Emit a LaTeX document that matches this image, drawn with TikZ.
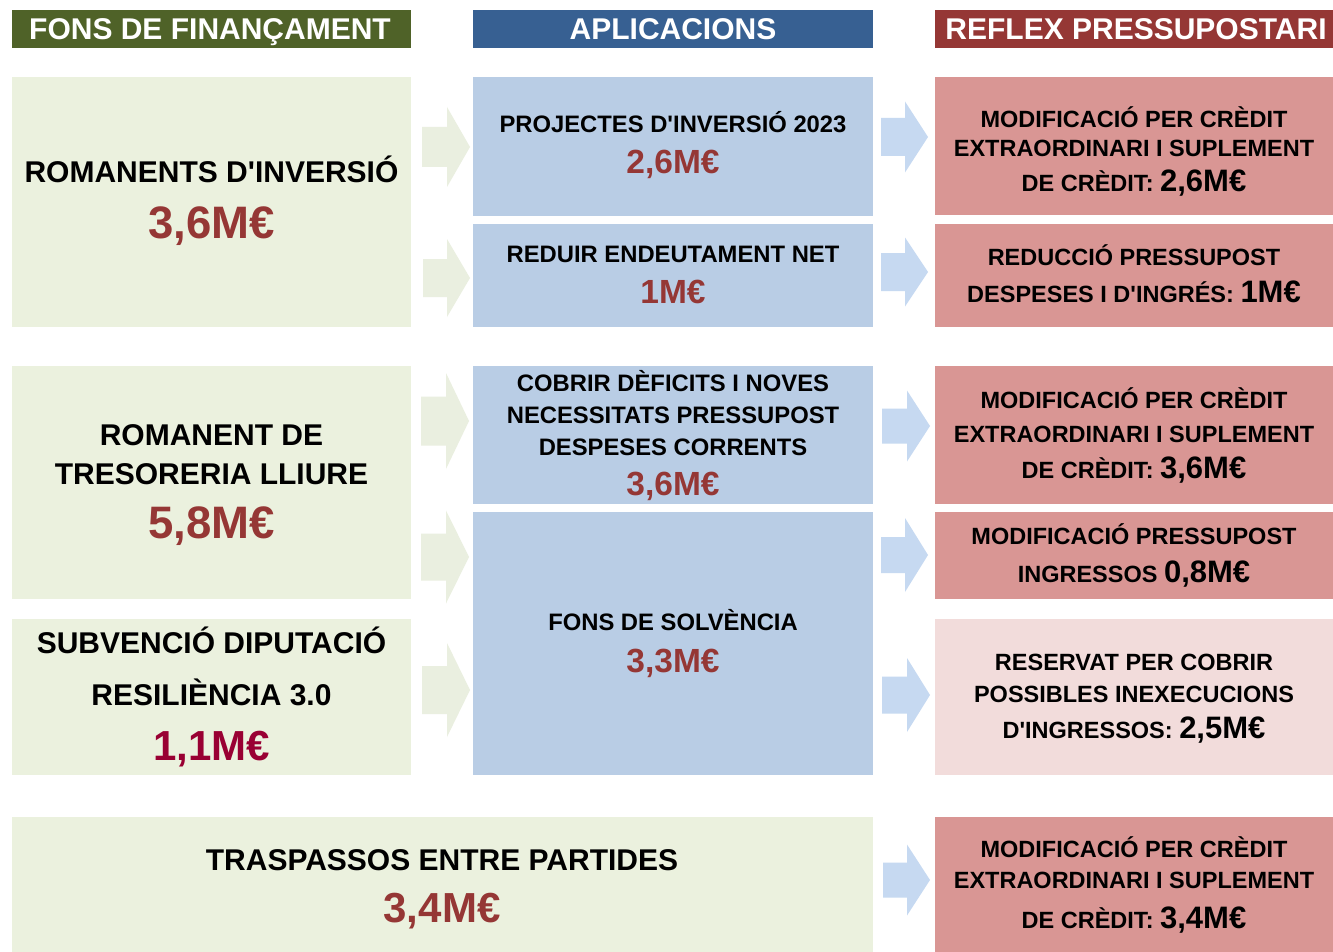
\documentclass[tikz,border=0pt]{standalone}
\usepackage{fontspec}
\setmainfont{Liberation Sans}[Ligatures=TeXOff]
\definecolor{hgreen}{HTML}{4F6228}
\definecolor{hblue}{HTML}{376092}
\definecolor{hred}{HTML}{953735}
\definecolor{lgreen}{HTML}{EBF1DE}
\definecolor{agreen}{HTML}{EAEFE0}
\definecolor{mblue}{HTML}{B9CDE5}
\definecolor{ablue}{HTML}{C6D9F1}
\definecolor{rdark}{HTML}{D99694}
\definecolor{rlight}{HTML}{F2DCDB}
\definecolor{valred}{HTML}{953735}
\definecolor{valcrim}{HTML}{990033}
\newcommand\fs[1]{\fontsize{#1}{#1}\selectfont}
\newcommand\blockarrow[6]{%
  \fill[#1] (#2,#4-#5) -- (#3-23,#4-#5) -- (#3-23,#4-#6) -- (#3,#4) -- (#3-23,#4+#6) -- (#3-23,#4+#5) -- (#2,#4+#5) -- cycle;}
\tikzset{
  panel/.style={rectangle, anchor=north west, inner sep=0pt, outer sep=0pt, draw=none},
  headbox/.style={panel, minimum height=38},
  txt/.style={anchor=base, inner sep=0pt, outer sep=0pt, font=\bfseries},
  headtxt/.style={txt, text=white, font=\bfseries\fs{30}},
  ltitle/.style={txt, font=\bfseries\fs{30}},
  lval/.style={txt, text=valred, font=\bfseries\fs{45.5}},
  mtitle/.style={txt, font=\bfseries\fs{23.8}},
  mval/.style={txt, text=valred, font=\bfseries\fs{33.5}},
  rtxt/.style={txt, font=\bfseries\fs{23.5}},
}
\newcommand\rv[1]{{\fs{31}#1}}
\begin{document}
\begin{tikzpicture}[x=1pt,y=-1pt]
\useasboundingbox[fill=white] (0,0) rectangle (1333,952);
% headers
\node[headbox, fill=hgreen, minimum width=399] (H1) at (12,10) {};
\node[headbox, fill=hblue, minimum width=400] (H2) at (473,10) {};
\node[headbox, fill=hred, minimum width=398] (H3) at (935,10) {};
\node[headtxt] (H1t) at (210,40) {FONS DE FINANÇAMENT};
\node[headtxt] (H2t) at (673,40) {APLICACIONS};
\node[headtxt] (H3t) at (1136,40) {REFLEX PRESSUPOSTARI};
% left panels
\node[panel, fill=lgreen, minimum width=399, minimum height=250] (L1) at (12,77) {};
\node[panel, fill=lgreen, minimum width=399, minimum height=233] (L2) at (12,366) {};
\node[panel, fill=lgreen, minimum width=399, minimum height=156] (L3) at (12,619) {};
\node[panel, fill=lgreen, minimum width=861, minimum height=135] (L4) at (12,817) {};
% middle panels
\node[panel, fill=mblue, minimum width=400, minimum height=139] (M1) at (473,77) {};
\node[panel, fill=mblue, minimum width=400, minimum height=103] (M2) at (473,224) {};
\node[panel, fill=mblue, minimum width=400, minimum height=138] (M3) at (473,366) {};
\node[panel, fill=mblue, minimum width=400, minimum height=263] (M4) at (473,512) {};
% right panels
\node[panel, fill=rdark, minimum width=398, minimum height=138] (R1) at (935,77) {};
\node[panel, fill=rdark, minimum width=398, minimum height=103] (R2) at (935,224) {};
\node[panel, fill=rdark, minimum width=398, minimum height=138] (R3) at (935,366) {};
\node[panel, fill=rdark, minimum width=398, minimum height=87] (R4) at (935,512) {};
\node[panel, fill=rlight, minimum width=398, minimum height=156] (R5) at (935,619) {};
\node[panel, fill=rdark, minimum width=398, minimum height=135] (R6) at (935,817) {};
% green block arrows
\blockarrow{agreen}{422}{470}{147}{20}{40}
\blockarrow{agreen}{423}{470}{278}{19}{39}
\blockarrow{agreen}{421}{469}{421}{24.5}{48}
\blockarrow{agreen}{421}{469}{557}{23.5}{46.5}
\blockarrow{agreen}{422}{470}{690}{24}{47}
% blue block arrows
\blockarrow{ablue}{881}{928}{137}{19}{35.5}
\blockarrow{ablue}{881}{928}{272}{19}{34.5}
\blockarrow{ablue}{882}{930}{426}{17.5}{35.5}
\blockarrow{ablue}{881}{928}{555}{18}{37}
\blockarrow{ablue}{882}{930}{695}{18.5}{37}
\blockarrow{ablue}{883}{930}{880}{17.5}{35.5}
% left texts
\node[ltitle] (L1a) at (211.5,183) {ROMANENTS D'INVERSIÓ};
\node[lval] (L1v) at (211.5,238) {3,6M€};
\node[ltitle] (L2a) at (211.5,445) {ROMANENT DE};
\node[ltitle] (L2b) at (211.5,484) {TRESORERIA LLIURE};
\node[lval] (L2v) at (211.5,538) {5,8M€};
\node[ltitle] (L3a) at (211.5,653) {SUBVENCIÓ DIPUTACIÓ};
\node[ltitle] (L3b) at (211.5,705) {RESILIÈNCIA 3.0};
\node[lval, text=valcrim, font=\bfseries\fs{42}] (L3v) at (211.5,760) {1,1M€};
\node[ltitle] (L4a) at (442,870) {TRASPASSOS ENTRE PARTIDES};
\node[lval, font=\bfseries\fs{42}] (L4v) at (442,922) {3,4M€};
% middle texts
\node[mtitle] (M1a) at (673,133) {PROJECTES D'INVERSIÓ 2023};
\node[mval] (M1v) at (673,174) {2,6M€};
\node[mtitle] (M2a) at (673,262) {REDUIR ENDEUTAMENT NET};
\node[mval] (M2v) at (673,303) {1M€};
\node[mtitle] (M3a) at (673,391) {COBRIR DÈFICITS I NOVES};
\node[mtitle] (M3b) at (673,423) {NECESSITATS PRESSUPOST};
\node[mtitle] (M3c) at (673,455) {DESPESES CORRENTS};
\node[mval] (M3v) at (673,495) {3,6M€};
\node[mtitle] (M4a) at (673,630) {FONS DE SOLVÈNCIA};
\node[mval] (M4v) at (673,672) {3,3M€};
% right texts
\node[rtxt] (R1a) at (1134,128) {MODIFICACIÓ PER CRÈDIT};
\node[rtxt] (R1b) at (1134,157) {EXTRAORDINARI I SUPLEMENT};
\node[rtxt] (R1c) at (1134,192) {DE CRÈDIT: \rv{2,6M€}};
\node[rtxt] (R2a) at (1134,265) {REDUCCIÓ PRESSUPOST};
\node[rtxt] (R2b) at (1134,302) {DESPESES I D'INGRÉS: \rv{1M€}};
\node[rtxt] (R3a) at (1134,408) {MODIFICACIÓ PER CRÈDIT};
\node[rtxt] (R3b) at (1134,442) {EXTRAORDINARI I SUPLEMENT};
\node[rtxt] (R3c) at (1134,478) {DE CRÈDIT: \rv{3,6M€}};
\node[rtxt] (R4a) at (1134,544) {MODIFICACIÓ PRESSUPOST};
\node[rtxt] (R4b) at (1134,582) {INGRESSOS \rv{0,8M€}};
\node[rtxt] (R5a) at (1134,670) {RESERVAT PER COBRIR};
\node[rtxt] (R5b) at (1134,702) {POSSIBLES INEXECUCIONS};
\node[rtxt] (R5c) at (1134,738) {D'INGRESSOS: \rv{2,5M€}};
\node[rtxt] (R6a) at (1134,857) {MODIFICACIÓ PER CRÈDIT};
\node[rtxt] (R6b) at (1134,888) {EXTRAORDINARI I SUPLEMENT};
\node[rtxt] (R6c) at (1134,928) {DE CRÈDIT: \rv{3,4M€}};
\end{tikzpicture}
\end{document}
